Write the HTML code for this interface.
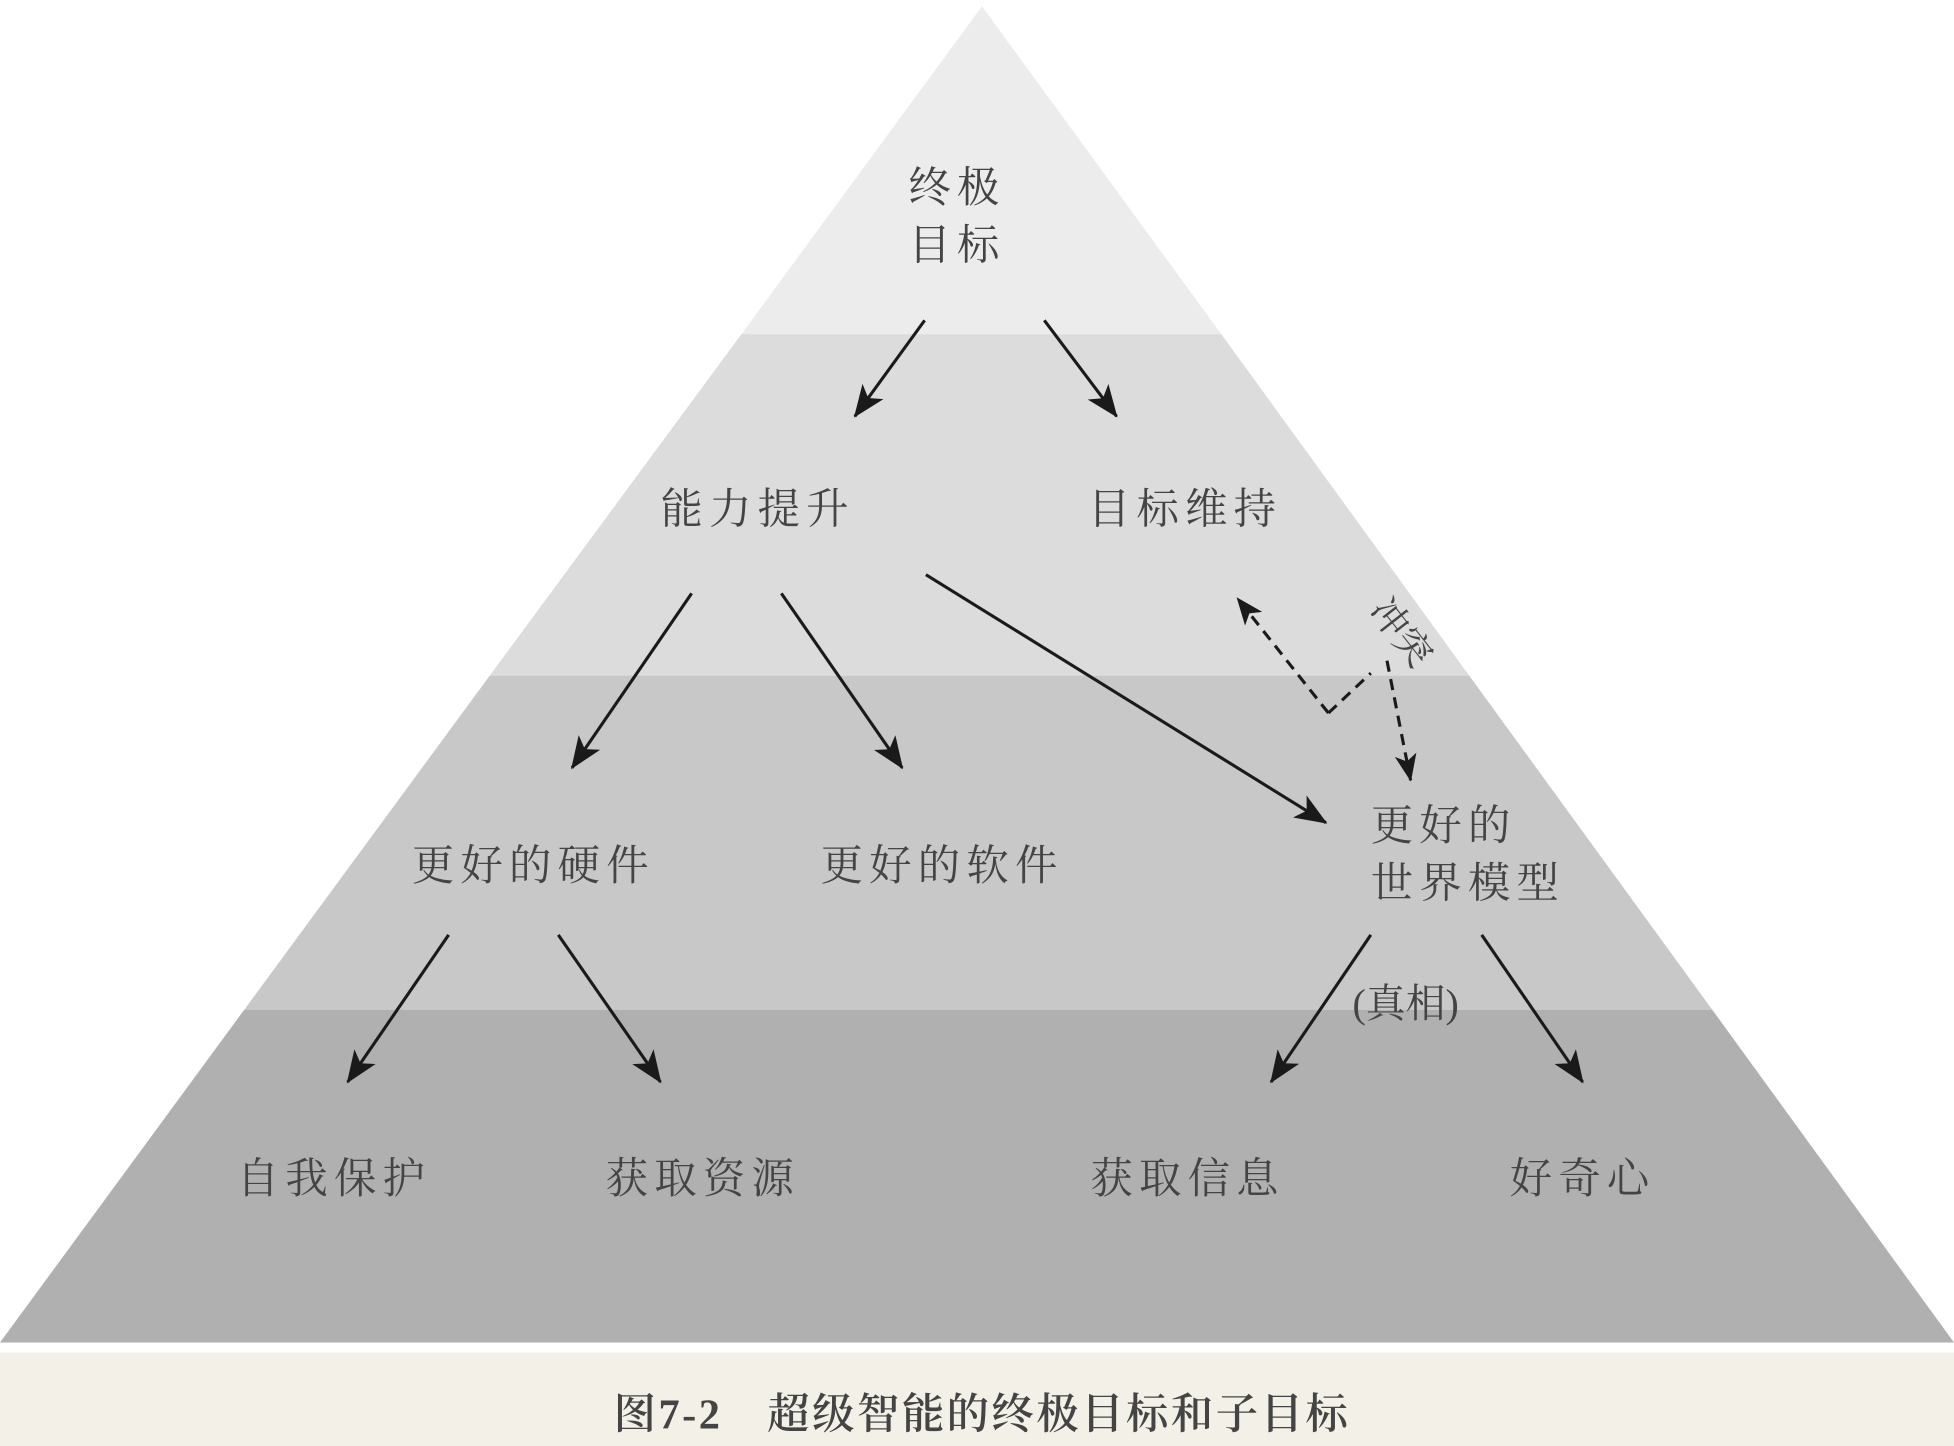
<!DOCTYPE html>
<html><head><meta charset="utf-8"><style>
html,body{margin:0;padding:0;background:#fff;}
svg{display:block;}
text{font-family:"Liberation Serif","Noto Serif CJK SC",serif;fill:#444;}
</style></head><body>
<svg width="1954" height="1446" viewBox="0 0 1568 1160" preserveAspectRatio="none" xmlns="http://www.w3.org/2000/svg">
<defs>
<marker id="a" viewBox="0 0 20 16" refX="19" refY="8" markerWidth="26" markerHeight="21" orient="auto" markerUnits="userSpaceOnUse">
<path d="M0,0 L20,8 L0,16 L5,8 Z" fill="#1a1a1a"/>
</marker>
<marker id="b" viewBox="0 0 20 16" refX="19" refY="8" markerWidth="22" markerHeight="18" orient="auto" markerUnits="userSpaceOnUse">
<path d="M0,0 L20,8 L0,16 L5,8 Z" fill="#1a1a1a"/>
</marker>
</defs>
<rect x="0" y="0" width="1568" height="1160" fill="#fff"/>
<polygon points="788,5 595,268 980,268" fill="#ececec"/>
<polygon points="595,268 980,268 1179,542 393,542" fill="#dcdcdc"/>
<polygon points="393,542 1179,542 1374,810 196,810" fill="#c8c8c8"/>
<polygon points="196,810 1374,810 1568,1077 0,1077" fill="#b1b0b1"/>
<rect x="0" y="1085" width="1568" height="75" fill="#f3f1e7"/>

<g stroke="#1a1a1a" stroke-width="2.5" fill="none" marker-end="url(#a)">
<line x1="742" y1="257" x2="686" y2="334"/>
<line x1="838" y1="257" x2="896" y2="334"/>
<line x1="555" y1="476" x2="459" y2="616"/>
<line x1="627" y1="476" x2="724" y2="616"/>
<line x1="743" y1="461" x2="1064" y2="660"/>
<line x1="360" y1="750" x2="279" y2="868"/>
<line x1="448" y1="750" x2="530" y2="868"/>
<line x1="1100" y1="750" x2="1020" y2="868"/>
<line x1="1189" y1="750" x2="1270" y2="868"/>
</g>
<g stroke="#1a1a1a" stroke-width="2.5" fill="none" stroke-dasharray="9,6">
<line x1="1066" y1="572" x2="993" y2="480" marker-end="url(#b)"/>
<polyline points="1066,572 1100,540"/>
<line x1="1113" y1="530" x2="1132" y2="626" marker-end="url(#b)"/>
</g>

<g font-size="34" text-anchor="middle" letter-spacing="5">
<text x="768" y="162">终极</text>
<text x="768" y="208">目标</text>
<text x="608" y="420">能力提升</text>
<text x="951" y="420">目标维持</text>
<text x="428" y="706">更好的硬件</text>
<text x="756" y="706">更好的软件</text>
<text x="1100" y="674" text-anchor="start">更好的</text>
<text x="1100" y="720" text-anchor="start">世界模型</text>
<text x="268" y="957">自我保护</text>
<text x="564" y="957">获取资源</text>
<text x="953" y="957">获取信息</text>
<text x="1270" y="957">好奇心</text>
<text x="1128" y="816" font-size="32" letter-spacing="0">(真相)</text>
</g>
<text x="0" y="0" font-size="30" transform="translate(1098,490) rotate(52)">冲突</text>
<text x="788" y="1146" font-size="34" letter-spacing="2" text-anchor="middle" fill="#222" font-weight="600">图7-2　超级智能的终极目标和子目标</text>
</svg>
</body></html>
